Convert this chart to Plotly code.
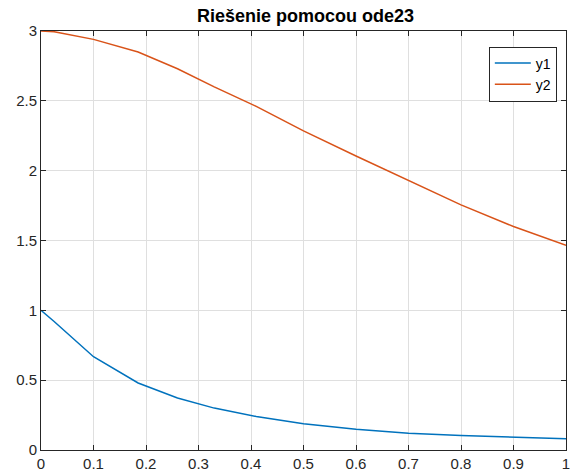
import plotly.graph_objects as go

# ode23 solution samples
t = [0, 0.025, 0.1, 0.185, 0.26, 0.33, 0.41, 0.5, 0.6, 0.7, 0.8, 0.9, 1.0]
y1 = [1.0, 0.92, 0.668, 0.48, 0.372, 0.30, 0.24, 0.188, 0.148, 0.12, 0.104, 0.093, 0.08]
y2 = [3.0, 2.995, 2.94, 2.85, 2.73, 2.60, 2.46, 2.285, 2.105, 1.93, 1.755, 1.60, 1.465]

x_ticks = [0, 0.1, 0.2, 0.3, 0.4, 0.5, 0.6, 0.7, 0.8, 0.9, 1]
y_ticks = [0, 0.5, 1, 1.5, 2, 2.5, 3]

axis_color = "#262626"
font_family = "Liberation Sans, Arial, sans-serif"

fig = go.Figure()
fig.add_trace(go.Scatter(x=t, y=y1, mode="lines", name="y1",
                         line=dict(color="#0072BD", width=1.5)))
fig.add_trace(go.Scatter(x=t, y=y2, mode="lines", name="y2",
                         line=dict(color="#D95319", width=1.5)))

common_axis = dict(
    showgrid=True, gridcolor="#dfdfdf", gridwidth=1,
    zeroline=False, showline=True, linecolor=axis_color, linewidth=1,
    mirror="ticks", ticks="inside", ticklen=5, tickcolor=axis_color,
    tickfont=dict(family=font_family, size=15, color=axis_color),
    ticklabeloverflow="allow",
)

fig.update_layout(
    width=570, height=475,
    margin=dict(l=41, r=0, t=31, b=25),
    paper_bgcolor="white", plot_bgcolor="white",
    title=dict(text="<b>Riešenie pomocou ode23</b>", x=(41 + 570) / 2 / 570,
               xanchor="center", y=1 - 16 / 475, yanchor="middle",
               font=dict(family=font_family, size=18, color="black")),
    xaxis=dict(range=[0, 1], tickvals=x_ticks,
               ticktext=[f"{v:g}" for v in x_ticks], **common_axis),
    yaxis=dict(range=[0, 3], tickvals=y_ticks,
               ticktext=[f"{v:g}" for v in y_ticks], **common_axis),
    legend=dict(x=0.853, y=0.963, xanchor="left", yanchor="top",
                bgcolor="white", bordercolor=axis_color, borderwidth=1,
                font=dict(family=font_family, size=14, color="black"),
                tracegroupgap=0, itemwidth=36),
    showlegend=True,
)

fig.write_html("out.html")
